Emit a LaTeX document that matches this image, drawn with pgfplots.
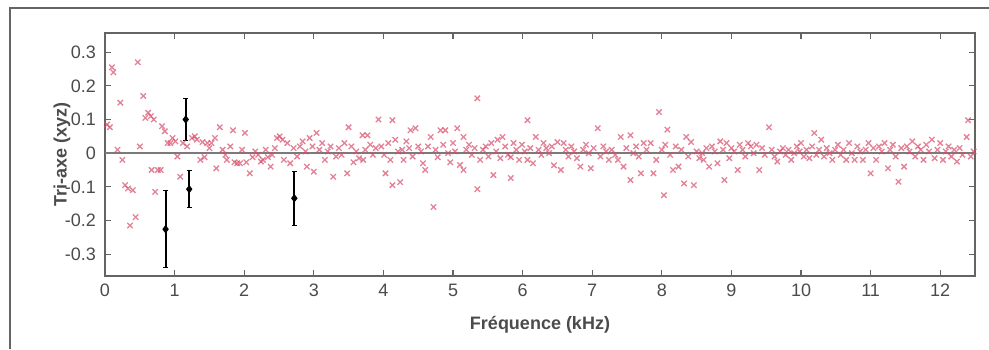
\documentclass[border=0pt]{standalone}
\usepackage{fontspec}
\setmainfont{Liberation Sans}
\usepackage{pgfplots}
\pgfplotsset{compat=1.18}
\definecolor{mk}{RGB}{215,75,105}
\definecolor{ax}{RGB}{100,100,100}
\definecolor{tx}{RGB}{75,75,75}
\begin{document}
\begin{tikzpicture}
\useasboundingbox (0,0) rectangle (494.5pt,174.5pt);
\draw[ax, line width=0.6pt] (5pt,0) -- (5pt,170.5pt) -- (494.5pt,170.5pt);
\begin{axis}[
  at={(52.5pt,36.5pt)}, anchor=south west,
  scale only axis, width=435pt, height=121.5pt,
  xmin=0, xmax=12.5, ymin=-0.365, ymax=0.357,
  axis line style={ax, line width=1pt},
  tick style={ax, line width=0.6pt},
  tick align=inside, major tick length=2.8pt,
  xtick={0,1,...,12}, ytick={-0.3,-0.2,-0.1,0,0.1,0.2,0.3},
  yticklabels={-0.3,-0.2,-0.1,0,0.1,0.2,0.3},
  xticklabels={0,1,2,3,4,5,6,7,8,9,10,11,12},
  ticklabel style={font=\fontsize{9}{10}\selectfont, text=tx},
  xticklabel style={yshift=-0.5pt},
  yticklabel style={xshift=-1pt},
  xlabel={\textbf{Fréquence (kHz)}},
  ylabel={\textbf{Tri-axe (xyz)}},
  label style={font=\fontsize{9}{10}\selectfont, text=tx},
  xlabel style={at={(rel axis cs:0.5,0)}, anchor=center, yshift=-24.5pt},
  ylabel style={at={(rel axis cs:0,0.5)}, anchor=center, yshift=21.5pt},
  clip=true,
]
\addplot[ax!85!white, line width=1.3pt, forget plot] coordinates {(0,0) (12.5,0)};
\addplot[only marks, mark=x, mark size=1.9pt, mk, opacity=0.7, mark options={line width=0.65pt}] coordinates {
(0.03,0.085) (0.07,0.077) (0.10,0.255) (0.12,0.24) (0.18,0.01) (0.22,0.15) (0.25,-0.02) (0.29,-0.095)
(0.33,-0.105) (0.36,-0.215) (0.40,-0.11) (0.44,-0.19) (0.47,0.27) (0.50,0.02) (0.55,0.17) (0.58,0.105)
(0.62,0.12) (0.66,0.11) (0.67,-0.05) (0.70,0.10) (0.72,-0.115) (0.76,-0.05) (0.80,-0.05) (0.82,0.08)
(0.86,0.065) (0.90,0.03) (0.94,0.03) (0.97,0.045) (1.01,0.035) (1.04,-0.01) (1.08,-0.07) (1.12,0.03)
(1.18,0.02) (1.25,0.045) (1.29,0.05) (1.32,0.04) (1.37,-0.02) (1.40,0.033) (1.43,-0.012) (1.47,0.03)
(1.50,0.015) (1.53,0.03) (1.58,0.045) (1.60,-0.045) (1.65,0.077) (1.69,0.01) (1.73,-0.005) (1.75,-0.02)
(1.80,0.02) (1.84,0.068) (1.86,-0.027) (1.90,-0.03) (1.94,-0.03) (1.97,0.01) (2.01,0.06) (2.03,-0.027)
(2.08,-0.06) (2.12,-0.012) (2.16,0.005) (2.20,-0.005) (2.24,-0.025) (2.27,-0.02) (2.31,0.01) (2.34,-0.012)
(2.38,-0.04) (2.40,-0.005) (2.44,0.015) (2.47,0.045) (2.51,0.05) (2.55,0.04) (2.57,-0.02) (2.62,0.03)
(2.66,-0.03) (2.71,0.015) (2.76,-0.01) (2.80,0.02) (2.84,0.035) (2.88,0.005) (2.90,-0.04) (2.94,0.045)
(2.98,0.02) (3.00,-0.055) (3.04,0.06) (3.08,0.01) (3.12,0.03) (3.16,-0.02)
(3.20,0.005) (3.24,0.02) (3.28,-0.07) (3.32,-0.01) (3.36,0.015) (3.40,-0.005) (3.44,0.03) (3.48,-0.06)
(3.50,0.077) (3.54,0.02) (3.57,-0.027) (3.61,0.005) (3.65,-0.015) (3.70,0.053) (3.71,-0.02) (3.74,0.01)
(3.77,0.053) (3.81,0.025) (3.85,-0.005) (3.89,0.015) (3.93,0.10) (3.97,0.02) (4.01,-0.005) (4.03,-0.06)
(4.07,0.03) (4.10,-0.02) (4.13,0.098) (4.13,-0.095) (4.17,0.04) (4.21,0.005) (4.24,-0.086) (4.27,0.01)
(4.29,-0.02) (4.33,0.035) (4.37,0.015) (4.39,0.068) (4.42,-0.01) (4.46,0.074) (4.50,0.02) (4.54,0.005)
(4.57,-0.03) (4.60,-0.05) (4.64,0.02) (4.68,0.048) (4.72,-0.16) (4.75,0.01) (4.78,-0.012) (4.82,0.068)
(4.86,0.025) (4.89,0.068) (4.93,0.0) (4.96,-0.027) (5.00,0.03) (5.03,0.005) (5.06,0.074) (5.10,-0.035)
(5.15,0.048) (5.15,-0.05) (5.19,0.01) (5.23,0.025) (5.27,-0.005) (5.31,0.015) (5.35,0.163) (5.35,-0.107)
(5.39,-0.02) (5.43,0.01) (5.47,0.02) (5.51,-0.01) (5.55,0.03) (5.58,-0.065) (5.62,0.005) (5.64,0.04)
(5.68,-0.015) (5.71,0.048) (5.75,0.02) (5.79,-0.005) (5.83,-0.074) (5.83,-0.012) (5.87,0.03) (5.91,0.01)
(5.95,-0.02) (5.99,0.025) (6.03,0.005) (6.07,0.098) (6.07,-0.02) (6.11,0.015) (6.15,-0.03) (6.19,0.048)
(6.23,0.01) (6.27,-0.005) (6.30,0.03) (6.34,0.015) (6.38,0.0) (6.42,0.02) (6.45,-0.036) (6.50,0.033)
(6.55,-0.05) (6.59,0.03) (6.62,0.01) (6.66,-0.01) (6.70,0.02) (6.74,0.005) (6.78,-0.015) (6.83,-0.04)
(6.87,0.01) (6.91,0.025) (6.95,0.0) (6.98,-0.045) (7.02,0.015) (7.08,0.074) (7.12,-0.01) (7.16,0.02)
(7.20,0.005) (7.24,-0.02) (7.28,0.01) (7.33,-0.005) (7.37,-0.02) (7.41,0.048) (7.45,-0.04) (7.49,0.015)
(7.55,0.053) (7.55,-0.08) (7.59,0.0) (7.63,0.02) (7.67,-0.01) (7.70,-0.06) (7.74,0.03) (7.78,0.01)
(7.84,0.03) (7.88,-0.06) (7.92,-0.02) (7.96,0.122) (8.00,0.01) (8.03,-0.125) (8.05,0.025)
(8.08,0.07) (8.12,-0.005) (8.16,-0.05) (8.20,0.02) (8.24,-0.04) (8.28,0.01) (8.32,-0.09) (8.35,0.048)
(8.38,-0.01) (8.42,0.033) (8.46,-0.095) (8.50,0.005) (8.54,-0.015) (8.58,0.0) (8.60,-0.02) (8.64,0.015)
(8.68,-0.04) (8.72,0.02) (8.76,0.005) (8.80,-0.03) (8.84,0.035) (8.88,0.01) (8.90,-0.08) (8.93,0.03)
(8.97,-0.015) (9.00,0.015) (9.04,0.005) (9.09,-0.05) (9.12,0.025) (9.16,0.01) (9.20,-0.01) (9.24,0.03)
(9.28,0.02) (9.32,0.0) (9.36,0.025) (9.40,-0.05) (9.44,0.015) (9.48,-0.005) (9.54,0.077) (9.58,0.01)
(9.62,-0.01) (9.66,-0.025) (9.70,0.005) (9.74,0.015) (9.78,-0.005) (9.82,0.01) (9.86,-0.02) (9.90,0.0)
(9.94,0.02) (9.98,0.005) (10.00,0.03) (10.04,-0.01) (10.08,0.01) (10.12,-0.015) (10.16,0.02) (10.19,0.06)
(10.22,-0.005) (10.26,0.01) (10.29,0.04) (10.33,-0.01) (10.37,0.015) (10.41,0.0) (10.45,-0.02) (10.49,0.01)
(10.53,0.025) (10.57,-0.005) (10.61,0.01) (10.65,-0.02) (10.69,0.03) (10.73,0.0) (10.77,-0.02) (10.81,0.02)
(10.85,0.005) (10.89,-0.02) (10.93,0.01) (10.97,0.03) (11.00,-0.06) (11.04,0.015) (11.08,-0.02) (11.12,0.02)
(11.16,0.005) (11.20,0.03) (11.25,-0.045) (11.28,0.01) (11.32,0.025) (11.36,-0.01) (11.40,-0.085) (11.44,0.015)
(11.48,-0.04) (11.52,0.02) (11.56,0.005) (11.60,0.035) (11.64,-0.01) (11.68,0.02) (11.72,0.01) (11.76,-0.02)
(11.80,0.025) (11.84,0.005) (11.88,0.04) (11.92,-0.015) (11.96,0.01) (12.00,0.03) (12.04,-0.02) (12.08,0.005)
(12.12,0.02) (12.16,-0.01) (12.20,0.01) (12.24,-0.025) (12.28,0.015) (12.32,-0.005) (12.38,0.048) (12.40,0.098)
(12.44,-0.01) (12.48,0.005)
};
\addplot[only marks, black, mark=diamond*, mark size=1.8pt,
  error bars/.cd, y dir=both, y explicit,
  error bar style={line width=1pt, black},
  error mark options={rotate=90, mark size=1.2pt, line width=0.5pt}]
  coordinates {
  (0.87,-0.226) +- (0,0.115)
  (1.16,0.100) +- (0,0.062)
  (1.21,-0.107) +- (0,0.055)
  (2.72,-0.134) +- (0,0.080)
};
\end{axis}
\end{tikzpicture}
\end{document}
